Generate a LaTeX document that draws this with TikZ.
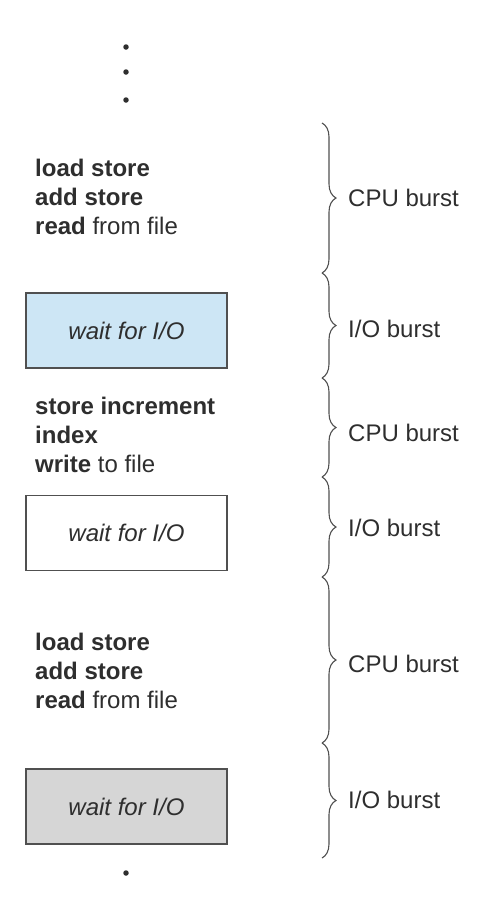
\documentclass[tikz,border=0pt]{standalone}
\usepackage{fontspec}
\setmainfont{Liberation Sans}
\usetikzlibrary{decorations.pathreplacing}
\definecolor{txt}{HTML}{2E2E2E}
\definecolor{ln}{HTML}{505050}
\definecolor{blue1}{HTML}{CDE6F5}
\definecolor{gray1}{HTML}{D6D6D6}
\tikzset{
  code/.style={anchor=west, align=left, inner sep=0pt, text=txt, font=\fontsize{24}{29}\selectfont},
  waitbox/.style={draw=ln, line width=1.2pt, minimum width=201pt, minimum height=75pt, inner sep=0pt, text=txt, font=\fontsize{24}{29}\selectfont\itshape},
  lbl/.style={anchor=west, inner sep=0pt, text=txt, font=\fontsize{24}{29}\selectfont},
  burst/.style={draw=ln, line width=1.1pt, decorate, decoration={brace, amplitude=14pt}},
  dot/.style={circle, fill=txt, inner sep=0pt, minimum size=5.5pt}
}
\begin{document}
\begin{tikzpicture}[x=1pt, y=-1pt]
\useasboundingbox (0,0) rectangle (482,898);
% dots
\node[dot] (d1) at (126,47) {};
\node[dot] (d2) at (126,72) {};
\node[dot] (d3) at (126,100) {};
\node[dot] (d4) at (126,873) {};
% text blocks
\node[code] (t1) at (35,197) {\textbf{load store}\\\textbf{add store}\\\textbf{read} from file};
\node[code] (t2) at (35,435) {\textbf{store increment}\\\textbf{index}\\\textbf{write} to file};
\node[code] (t3) at (35,671) {\textbf{load store}\\\textbf{add store}\\\textbf{read} from file};
% boxes
\node[waitbox, fill=blue1] (w1) at (126.5,330.5) {wait for I/O};
\node[waitbox, fill=white] (w2) at (126.5,533) {wait for I/O};
\node[waitbox, fill=gray1] (w3) at (126.5,806.5) {wait for I/O};
% brace endpoints
\coordinate (b0) at (322,123);
\coordinate (b1) at (322,273);
\coordinate (b2) at (322,378);
\coordinate (b3) at (322,477);
\coordinate (b4) at (322,577);
\coordinate (b5) at (322,743);
\coordinate (b6) at (322,858);
\draw[burst] (b0) -- (b1);
\draw[burst] (b1) -- (b2);
\draw[burst] (b2) -- (b3);
\draw[burst] (b3) -- (b4);
\draw[burst] (b4) -- (b5);
\draw[burst] (b5) -- (b6);
% labels
\node[lbl] (l1) at (348,198) {CPU burst};
\node[lbl] (l2) at (348,329) {I/O burst};
\node[lbl] (l3) at (348,433) {CPU burst};
\node[lbl] (l4) at (348,528) {I/O burst};
\node[lbl] (l5) at (348,664) {CPU burst};
\node[lbl] (l6) at (348,800) {I/O burst};
\end{tikzpicture}
\end{document}
